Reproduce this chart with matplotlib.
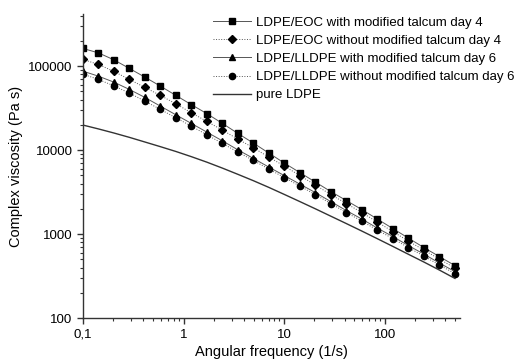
import numpy as np
import matplotlib
matplotlib.use("Agg")
import matplotlib.pyplot as plt
from matplotlib.ticker import FixedLocator, FuncFormatter, LogLocator, NullFormatter

plt.rcParams['font.family'] = ['Liberation Sans', 'DejaVu Sans']

# angular frequency (1/s)
freq = [0.1, 0.1426, 0.2034, 0.2900, 0.4136, 0.5898, 0.8411, 1.199, 1.710, 2.439,
        3.479, 4.961, 7.075, 10.09, 14.39, 20.52, 29.26, 41.73, 59.51, 84.87,
        121.0, 172.6, 246.1, 351.0, 500.0]

# complex viscosity (Pa s)
eoc_mod = [162500, 144000, 118900, 93900, 73960, 57800, 44790, 34800, 27200, 20790,
           15800, 12120, 9210, 7000, 5400, 4160, 3206, 2506, 1958, 1509,
           1163, 896, 691, 540, 422]
eoc_nomod = [120200, 104800, 86500, 69450, 55770, 44790, 35580, 27800, 21970, 17300,
             13520, 10650, 8250, 6450, 4970, 3830, 2953, 2308, 1803, 1390,
             1071, 825, 645, 504, 394]
lldpe_mod = [87200, 76030, 64500, 52800, 42400, 33400, 26320, 20790, 16380, 12900,
             10080, 7965, 6275, 4970, 3937, 3119, 2437, 1905, 1509, 1179,
             934, 730, 578, 452, 358]
lldpe_nomod = [80320, 69450, 58280, 47710, 38310, 30510, 24240, 19310, 15210, 12020,
               9467, 7540, 5940, 4705, 3728, 2953, 2308, 1803, 1428, 1116,
               884, 691, 547, 428, 339]
pure_ldpe = [19900, 17900, 16000, 14200, 12500, 11000, 9640, 8360, 7190, 6110,
             5150, 4325, 3597, 2965, 2438, 2000, 1633, 1334, 1086, 881,
             713, 575, 465, 373, 297]

labels = ["LDPE/EOC with modified talcum day 4",
          "LDPE/EOC without modified talcum day 4",
          "LDPE/LLDPE with modified talcum day 6",
          "LDPE/LLDPE without modified talcum day 6",
          "pure LDPE"]

fig = plt.figure(figsize=(5.25, 3.64), dpi=100)
ax = fig.add_axes([0.158, 0.126, 0.718, 0.836])

lc = '#555555'
ms = 4.5
ax.plot(freq, eoc_mod, '-', color=lc, lw=0.7, marker='s', ms=ms * 0.95,
        mfc='black', mec='black', label=labels[0])
ax.plot(freq, eoc_nomod, ':', color=lc, lw=0.7, marker='D', ms=ms * 0.9,
        mfc='black', mec='black', label=labels[1])
ax.plot(freq, lldpe_mod, '-', color=lc, lw=0.7, marker='^', ms=ms * 1.1,
        mfc='black', mec='black', label=labels[2])
ax.plot(freq, lldpe_nomod, ':', color=lc, lw=0.7, marker='o', ms=ms,
        mfc='black', mec='black', label=labels[3])
ax.plot(freq, pure_ldpe, '-', color='#333333', lw=1.0, label=labels[4])

ax.set_xscale('log')
ax.set_yscale('log')
ax.set_xlim(0.1, 560)
ax.set_ylim(100, 420000)

ax.xaxis.set_major_locator(FixedLocator([0.1, 1, 10, 100]))
ax.xaxis.set_major_formatter(FuncFormatter(lambda v, p: ('%g' % v).replace('.', ',')))
ax.xaxis.set_minor_locator(LogLocator(base=10, subs=np.arange(2, 10)))
ax.xaxis.set_minor_formatter(NullFormatter())
ax.yaxis.set_major_locator(FixedLocator([100, 1000, 10000, 100000]))
ax.yaxis.set_major_formatter(FuncFormatter(lambda v, p: '%d' % v))
ax.yaxis.set_minor_locator(LogLocator(base=10, subs=np.arange(2, 10)))
ax.yaxis.set_minor_formatter(NullFormatter())

for s in ['top', 'right']:
    ax.spines[s].set_visible(False)
for s in ['left', 'bottom']:
    ax.spines[s].set_linewidth(1.0)
    ax.spines[s].set_color('#333333')
ax.tick_params(which='major', direction='out', length=4, width=1.0, labelsize=9.5,
               color='#333333')
ax.tick_params(which='minor', direction='out', length=2.2, width=0.8, color='#333333')

ax.set_xlabel("Angular frequency (1/s)", fontsize=10.5, labelpad=3)
ax.set_ylabel("Complex viscosity (Pa s)", fontsize=10.5, labelpad=4)

leg = ax.legend(loc='upper left', bbox_to_anchor=(0.406, 0.955),
                bbox_transform=fig.transFigure, frameon=False, fontsize=9.5,
                handlelength=2.9, handletextpad=0.35, labelspacing=0.45,
                borderpad=0, borderaxespad=0)

fig.savefig("out.png", dpi=100)
